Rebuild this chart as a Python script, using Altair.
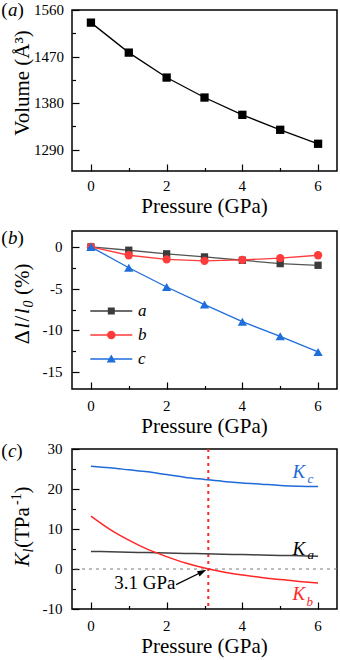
import altair as alt
import pandas as pd

FONT = "Liberation Serif"

# ---------------- data ----------------
pressure = [0, 1, 2, 3, 4, 5, 6]
volume = [1535.6, 1477.7, 1429.5, 1390.9, 1357.5, 1328.6, 1301.6]

series_names = ["a", "b", "c"]
strain_a = [0.0, -0.4, -0.83, -1.2, -1.6, -2.0, -2.2]
strain_b = [0.0, -1.0, -1.5, -1.67, -1.55, -1.35, -1.0]
strain_c = [0.0, -2.5, -4.8, -6.9, -8.95, -10.7, -12.57]

pressure_fine = [0, 0.5, 1, 1.5, 2, 2.5, 3, 3.5, 4, 4.5, 5, 5.5, 6]
K_a = [4.4, 4.3, 4.2, 4.1, 4.0, 3.9, 3.8, 3.7, 3.6, 3.5, 3.4, 3.3, 3.2]
K_b = [13.2, 9.9, 7.2, 4.9, 3.1, 1.5, 0.23, -0.75, -1.5, -2.1, -2.65, -3.1, -3.5]
K_c = [25.7, 25.3, 24.8, 24.3, 23.6, 22.9, 22.4, 21.9, 21.5, 21.2, 20.9, 20.7, 20.6]

crossing_pressure = [3.1]
zero_level = [0]
arrow_tail = [2.25, -3.9]
arrow_tip = [3.05, -0.2]

x_ticks = [0, 2, 4, 6]
x_ticks_minor = [1, 3, 5]
y_ticks_a = [1290, 1380, 1470, 1560]
y_ticks_a_minor = [1335, 1425, 1515]
y_ticks_b = [0, -5, -10, -15]
y_ticks_b_minor = [-2.5, -7.5, -12.5]
y_ticks_c = [-10, 0, 10, 20, 30]
y_ticks_c_minor = [25, 15, 5, -5]

# ---------------- style ----------------
COL_A_LINE = "#555555"
COL_A_MARK = "#3c3c3c"
COL_B = "#ff3b3b"
COL_C = "#1e6fdc"
KA_COL = "#404040"
KB_COL = "#ff2626"
KC_COL = "#1f6ad8"

W = 265
H_A, H_B, H_C = 161, 158, 160

XS = alt.Scale(domain=[-0.5, 6.5], nice=False, zero=False)
YS_A = alt.Scale(domain=[1249, 1560], nice=False, zero=False)
YS_B = alt.Scale(domain=[-17, 1.9], nice=False, zero=False)
YS_C = alt.Scale(domain=[-10, 30], nice=False, zero=False)

ONE = pd.DataFrame({"k": [0]})
AX_STYLE = dict(tickColor="black", tickWidth=1.2, grid=False, domain=False,
                labels=False, title=None)


def axis_layers(df, yf, ys, y_maj, y_min):
    major = alt.Chart(df).mark_point(opacity=0).encode(
        x=alt.X("P:Q", scale=XS, axis=alt.Axis(orient="bottom", values=x_ticks,
                                                tickSize={"expr": "-7"}, **AX_STYLE)),
        y=alt.Y(f"{yf}:Q", scale=ys, axis=alt.Axis(orient="left", values=y_maj,
                                                    tickSize={"expr": "-7"}, **AX_STYLE)))
    minor = alt.Chart(df).mark_point(opacity=0).encode(
        x=alt.X("P:Q", scale=XS, axis=alt.Axis(orient="bottom", values=x_ticks_minor,
                                                tickSize={"expr": "-3.5"}, **AX_STYLE)),
        y=alt.Y(f"{yf}:Q", scale=ys, axis=alt.Axis(orient="left", values=y_min,
                                                    tickSize={"expr": "-3.5"}, **AX_STYLE)))
    return [major, minor]


def tick_labels(H, ys, y_vals, x_base, y_gap):
    dx = pd.DataFrame({"P": x_ticks, "lab": [str(v) for v in x_ticks]})
    dy = pd.DataFrame({"v": y_vals, "lab": [str(v) for v in y_vals]})
    xl = alt.Chart(dx).mark_text(font=FONT, fontSize=15, align="center",
                                 baseline="alphabetic", color="black").encode(
        x=alt.X("P:Q", scale=XS, axis=None), y=alt.value(H + x_base), text="lab:N")
    yl = alt.Chart(dy).mark_text(font=FONT, fontSize=15, align="right",
                                 baseline="middle", color="black").encode(
        x=alt.value(-y_gap), y=alt.Y("v:Q", scale=ys, axis=None), text="lab:N")
    return [xl, yl]


def txt(s, x, y, size, color="black", style="normal", align="left", angle=0):
    return alt.Chart(ONE).mark_text(text=s, font=FONT, fontSize=size, fontStyle=style,
                                    color=color, align=align, baseline="alphabetic",
                                    angle=angle).encode(x=alt.value(x), y=alt.value(y))


def vtxt(s, x, y, size, style="normal", align="left"):
    return txt(s, x, y, size, style=style, align=align, angle=270)


def x_title(H, base):
    return txt("Pressure (GPa)", W / 2, H + base, 21, align="center")


def panel_label(letter, baseline, letter_w):
    x0 = -70.7
    return [txt("(", x0, baseline, 19),
            txt(letter, x0 + 6.6, baseline, 19, style="italic"),
            txt(")", x0 + 6.6 + letter_w, baseline, 19)]


def top_guard(t):
    return alt.Chart(ONE).mark_rule(opacity=0, strokeWidth=0.1).encode(
        x=alt.value(0), x2=alt.value(20), y=alt.value(-t))


def xy(yf, ys):
    return dict(x=alt.X("P:Q", scale=XS, axis=None), y=alt.Y(f"{yf}:Q", scale=ys, axis=None))


TX = -43.4   # baseline x of rotated y titles

# ---------------- panel (a) ----------------
df_a = pd.DataFrame({"P": pressure, "V": volume})
pa_layers = axis_layers(df_a, "V", YS_A, y_ticks_a, y_ticks_a_minor)
pa_layers += [
    alt.Chart(df_a).mark_line(color="black", strokeWidth=1.3).encode(**xy("V", YS_A)),
    alt.Chart(df_a).mark_point(shape="square", filled=True, size=69, color="black",
                               opacity=1).encode(**xy("V", YS_A)),
    top_guard(9),
    x_title(H_A, 42),
    vtxt("Volume (Å³)", TX, 73, 21, align="center"),
]
pa_layers += tick_labels(H_A, YS_A, y_ticks_a, 19.8, 8)
pa_layers += panel_label("a", 6.3, 9.5)
panel_a = alt.layer(*pa_layers).resolve_axis(x="independent", y="independent").properties(
    width=W, height=H_A)

# ---------------- panel (b) ----------------
strains = {"a": strain_a, "b": strain_b, "c": strain_c}
df_b = pd.DataFrame({
    "P": pressure * 3,
    "val": strain_a + strain_b + strain_c,
    "series": ["a"] * 7 + ["b"] * 7 + ["c"] * 7,
})
pb_layers = axis_layers(df_b, "val", YS_B, y_ticks_b, y_ticks_b_minor)
line_cols = {"a": COL_A_LINE, "b": COL_B, "c": COL_C}
mark_cols = {"a": COL_A_MARK, "b": COL_B, "c": COL_C}
shapes = {"a": "square", "b": "circle", "c": "triangle-up"}
sizes = {"a": 53, "b": 69, "c": 86}
for s in series_names:
    d = pd.DataFrame({"P": pressure, "val": strains[s]})
    pb_layers.append(alt.Chart(d).mark_line(color=line_cols[s], strokeWidth=1.3).encode(
        **xy("val", YS_B)))
for s in series_names:
    d = pd.DataFrame({"P": pressure, "val": strains[s]})
    pb_layers.append(alt.Chart(d).mark_point(shape=shapes[s], filled=True, size=sizes[s],
                                             color=mark_cols[s], opacity=1).encode(
        **xy("val", YS_B)))

LINE_P = "M-5.25,-0.16H5.25V0.16H-5.25Z"
legend_paths = [
    LINE_P + "M-0.875,-0.875H0.875V0.875H-0.875Z",
    LINE_P + "M1.07,0A1.07,1.07,0,1,1,-1.07,0A1.07,1.07,0,1,1,1.07,0Z",
    LINE_P + "M0,-1.15L1.15,0.85H-1.15Z",
]
leg = alt.Legend(orient="none", legendX=18.3, legendY=71.5, title=None, symbolSize=64,
                 symbolOffset=12.5, labelOffset=18.3, labelFont=FONT, labelFontSize=17,
                 labelFontStyle="italic", labelColor="black", rowPadding=6, padding=0,
                 symbolStrokeWidth=0, symbolOpacity=1)
pb_layers.append(alt.Chart(df_b).mark_point(opacity=0, filled=True).encode(
    x=alt.X("P:Q", scale=XS, axis=None),
    y=alt.Y("val:Q", scale=YS_B, axis=None),
    color=alt.Color("series:N", scale=alt.Scale(domain=series_names,
                                                range=[COL_A_MARK, COL_B, COL_C]), legend=leg),
    shape=alt.Shape("series:N", scale=alt.Scale(domain=series_names, range=legend_paths),
                    legend=leg),
))
pb_layers += [
    top_guard(11.3),
    x_title(H_B, 44.2),
    vtxt("Δ", TX, 113.3, 22),
    vtxt("l", TX, 97.5, 21, style="italic"),
    vtxt("/", TX, 90.5, 21),
    vtxt("l", TX, 83, 21, style="italic"),
    vtxt("0", TX + 4, 76.5, 14, style="italic"),
    vtxt("(%)", TX, 64, 21),
]
pb_layers += tick_labels(H_B, YS_B, y_ticks_b, 22, 9.5)
pb_layers += panel_label("b", 12.7, 9.5)
panel_b = alt.layer(*pb_layers).resolve_axis(x="independent", y="independent").properties(
    width=W, height=H_B)

# ---------------- panel (c) ----------------
df_c = pd.DataFrame({"P": pressure_fine, "K": K_c})
pc_layers = axis_layers(df_c, "K", YS_C, y_ticks_c, y_ticks_c_minor)
pc_layers.append(alt.Chart(pd.DataFrame({"K": zero_level})).mark_rule(
    color="#7a7a7a", strokeWidth=1, strokeDash=[3, 4]).encode(
    y=alt.Y("K:Q", scale=YS_C, axis=None)))
pc_layers.append(alt.Chart(pd.DataFrame({"P": crossing_pressure})).mark_rule(
    color=KB_COL, strokeWidth=2, strokeDash=[3, 4]).encode(
    x=alt.X("P:Q", scale=XS, axis=None)))
for vals, col in [(K_c, KC_COL), (K_a, KA_COL), (K_b, KB_COL)]:
    d = pd.DataFrame({"P": pressure_fine, "K": vals})
    pc_layers.append(alt.Chart(d).mark_line(color=col, strokeWidth=1.5,
                                            interpolate="monotone").encode(**xy("K", YS_C)))

frac = 0.134
head = [arrow_tip[0] - frac * (arrow_tip[0] - arrow_tail[0]),
        arrow_tip[1] - frac * (arrow_tip[1] - arrow_tail[1])]
df_arrow = pd.DataFrame({"P": [arrow_tail[0]], "K": [arrow_tail[1]],
                         "P2": [head[0]], "K2": [head[1]]})
pc_layers.append(alt.Chart(df_arrow).mark_rule(color="black", strokeWidth=1.3).encode(
    x=alt.X("P:Q", scale=XS, axis=None), y=alt.Y("K:Q", scale=YS_C, axis=None),
    x2="P2:Q", y2="K2:Q"))
pc_layers.append(alt.Chart(pd.DataFrame({"P": [head[0]], "K": [head[1]]})).mark_point(
    shape="M1,0L-1,-0.65L-1,0.65Z", filled=True, size=81, angle=334, color="black",
    opacity=1).encode(**xy("K", YS_C)))

pc_layers += [
    txt("3.1 GPa", 42.3, 140, 19),
    txt("K", 220.6, 29.3, 19, KC_COL, "italic"),
    txt("c", 235.6, 34.3, 13, KC_COL, "italic"),
    txt("K", 220.6, 106, 19, "black", "italic"),
    txt("a", 235.6, 110, 13, "black", "italic"),
    txt("K", 220.6, 151, 19, KB_COL, "italic"),
    txt("b", 234.5, 156.7, 13, KB_COL, "italic"),
    top_guard(9.4),
    x_title(H_C, 44),
    vtxt("K", TX, 117.7, 21, style="italic"),
    vtxt("l", TX + 4, 103.5, 14, style="italic"),
    vtxt(" (TPa", TX, 99, 21),
    vtxt("-1", TX - 7.5, 56, 14),
    vtxt(")", TX, 44.5, 21),
]
pc_layers += tick_labels(H_C, YS_C, y_ticks_c, 21.8, 9.5)
pc_layers += panel_label("c", 8.3, 8.4)
panel_c = alt.layer(*pc_layers).resolve_axis(x="independent", y="independent").properties(
    width=W, height=H_C)

chart = alt.vconcat(panel_a, panel_b, panel_c, spacing=0).resolve_scale(
    color="independent", shape="independent"
).resolve_legend(
    color="independent", shape="independent"
).properties(
    padding={"left": 0, "top": 0, "right": 1, "bottom": 2},
    background="white",
).configure_view(
    stroke="black", strokeWidth=1.5
).configure_axis(**AX_STYLE)

chart.save("out.html", embed_options={"renderer": "svg", "actions": False})
